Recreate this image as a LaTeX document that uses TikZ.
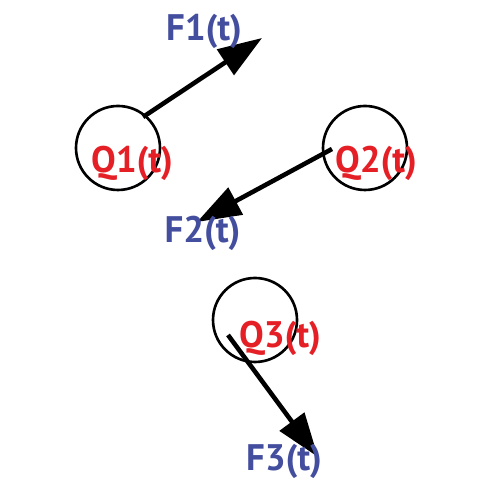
\documentclass[tikz,border=0pt]{standalone}
\usepackage{fontspec}
\setmainfont{PT Sans}
\usepackage{tikz}
\usetikzlibrary{arrows.meta,positioning,calc}
\definecolor{ChargeRed}{RGB}{228,32,38}
\definecolor{ForceBlue}{RGB}{68,78,158}
\tikzset{
  charge/.style={draw=black,circle,line width=1.5pt,minimum size=1.68cm,inner sep=0pt},
  qlabel/.style={text=ChargeRed,font=\bfseries\fontsize{21}{21}\selectfont,inner sep=0pt},
  flabel/.style={text=ForceBlue,font=\bfseries\fontsize{21}{21}\selectfont,inner sep=0pt},
  force/.style={-{Triangle[length=0.88cm,width=0.6cm]},line width=2.6pt,black}
}
\begin{document}
\begin{tikzpicture}
\useasboundingbox (0,0) rectangle (10,10);

% Charges
\node[charge] (q1) at (2.36,7.04) {};
\node[charge] (q2) at (7.30,7.04) {};
\node[charge] (q3) at (5.10,3.60) {};

\node[qlabel] (q1lab) at (2.64,6.74) {Q1(t)};
\node[qlabel] (q2lab) at (7.52,6.74) {Q2(t)};
\node[qlabel] (q3lab) at (5.60,3.24) {Q3(t)};

% Forces
\coordinate (s1) at (2.86,7.66);
\coordinate (t1) at (5.24,9.24);
\coordinate (s2) at (6.64,7.02);
\coordinate (t2) at (3.94,5.56);
\coordinate (s3) at (4.56,3.30);
\coordinate (t3) at (6.36,0.86);

\draw[force] (s1) -- (t1);
\draw[force] (s2) -- (t2);
\draw[force] (s3) -- (t3);

\node[flabel] (f1) at (4.08,9.38) {F1(t)};
\node[flabel] (f2) at (4.05,5.34) {F2(t)};
\node[flabel] (f3) at (5.68,0.78) {F3(t)};

\end{tikzpicture}
\end{document}
